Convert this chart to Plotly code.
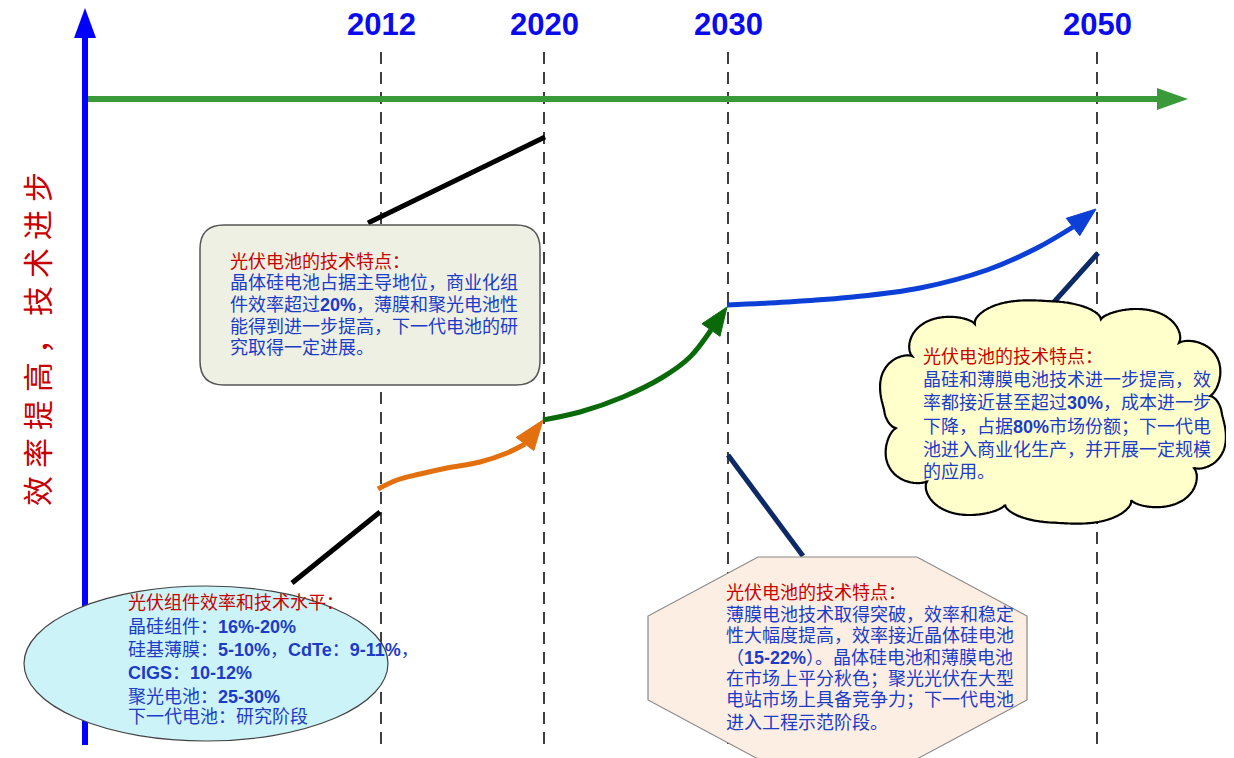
import numpy as np
import plotly.graph_objects as go

W, H = 1234, 758
OFF = 8  # page body margin compensation

# ---- timeline data ----
years = ["2012", "2020", "2030", "2050"]
year_x = [381, 544, 728, 1097]

# ---- trajectory curves (diagram units) ----
orange_x = [378, 397, 420, 447, 480, 507, 525]
orange_y = [489, 480, 474, 468, 462, 453, 444]
orange_tip = [543, 420]
green_x = [543, 580, 623, 663, 690, 711]
green_y = [420, 412, 397, 377, 357, 330]
green_tip = [727, 307]
blue_x = [727, 787, 853, 920, 987, 1037, 1073]
blue_y = [305, 302, 297, 288, 270, 248, 227]
blue_tip = [1096, 209]

# ---- connector lines ----
black1_x = [292, 380]
black1_y = [583, 512]
black2_x = [368, 545]
black2_y = [223, 137]
navy1_x = [728, 803]
navy1_y = [455, 556]
navy2_x = [1045, 1098]
navy2_y = [312, 253]

# ---- texts ----
ylabel_chars = ["效", "率", "提", "高", "，", "技", "术", "进", "步"]

box1_lines = ["光伏电池的技术特点：",
              "晶体硅电池占据主导地位，商业化组",
              "件效率超过<b>20%</b>，薄膜和聚光电池性",
              "能得到进一步提高，下一代电池的研",
              "究取得一定进展。"]
cloud_lines = ["光伏电池的技术特点：",
               "晶硅和薄膜电池技术进一步提高，效",
               "率都接近甚至超过<b>30%</b>，成本进一步",
               "下降，占据<b>80%</b>市场份额；下一代电",
               "池进入商业化生产，并开展一定规模",
               "的应用。"]
octa_lines = ["光伏电池的技术特点：",
              "薄膜电池技术取得突破，效率和稳定",
              "性大幅度提高，效率接近晶体硅电池",
              "（<b>15-22%</b>）。晶体硅电池和薄膜电池",
              "在市场上平分秋色；聚光光伏在大型",
              "电站市场上具备竞争力；下一代电池",
              "进入工程示范阶段。"]
ellipse_lines = ["光伏组件效率和技术水平：",
                 "晶硅组件：<b>16%-20%</b>",
                 "硅基薄膜：<b>5-10%</b>，<b>CdTe</b>：<b>9-11%</b>，",
                 "<b>CIGS</b>：<b>10-12%</b>",
                 "聚光电池：<b>25-30%</b>",
                 "下一代电池：研究阶段"]

RED = "#c80000"
BODY = "#1c3cc8"
FONT = "Liberation Sans, Noto Sans CJK SC"

fig = go.Figure()
shapes = []
annotations = []

# dashed year lines
for x in year_x:
    shapes.append(dict(type="line", xref="x", yref="y", x0=x, x1=x, y0=52, y1=745,
                       line=dict(color="black", width=1.5, dash="12px,8px"), layer="below"))

def tri_path(pts):
    return "M " + " L ".join(f"{p[0]:.1f},{p[1]:.1f}" for p in pts) + " Z"

# vertical blue axis
shapes.append(dict(type="line", xref="x", yref="y", x0=85, x1=85, y0=745, y1=36,
                   line=dict(color="#0000ff", width=6), layer="below"))
shapes.append(dict(type="path", xref="x", yref="y", path=tri_path([(74, 38), (96, 38), (85, 8)]),
                   fillcolor="#0000ff", line=dict(width=0), layer="below"))
# horizontal green axis
shapes.append(dict(type="line", xref="x", yref="y", x0=88, x1=1160, y0=99, y1=99,
                   line=dict(color="#3a9a3a", width=6), layer="below"))
shapes.append(dict(type="path", xref="x", yref="y", path=tri_path([(1157, 88), (1157, 110), (1188, 99)]),
                   fillcolor="#3a9a3a", line=dict(width=0), layer="below"))

# curves + arrowheads
def add_curve(xs, ys, tip, color):
    fig.add_trace(go.Scatter(x=xs, y=ys, mode="lines", line=dict(color=color, width=5, shape="spline"),
                             hoverinfo="skip", showlegend=False))
    bx, by = xs[-1], ys[-1]
    tx, ty = tip
    d = np.array([tx - bx, ty - by], float)
    d /= np.linalg.norm(d)
    n = np.array([-d[1], d[0]])
    w = 11
    p1 = (bx + n[0] * w, by + n[1] * w)
    p2 = (bx - n[0] * w, by - n[1] * w)
    fig.add_trace(go.Scatter(x=[p1[0], tx, p2[0], p1[0]], y=[p1[1], ty, p2[1], p1[1]],
                             mode="lines", fill="toself", fillcolor=color,
                             line=dict(color=color, width=1), hoverinfo="skip", showlegend=False))

add_curve(orange_x, orange_y, orange_tip, "#e3700f")
add_curve(green_x, green_y, green_tip, "#0a6a0a")
add_curve(blue_x, blue_y, blue_tip, "#0c3fd6")

for xs, ys, c in [(black1_x, black1_y, "black"), (black2_x, black2_y, "black"),
                  (navy1_x, navy1_y, "#0d2a66"), (navy2_x, navy2_y, "#0d2a66")]:
    fig.add_trace(go.Scatter(x=xs, y=ys, mode="lines", line=dict(color=c, width=5),
                             hoverinfo="skip", showlegend=False))

# rounded rectangle box
x0, x1, y0, y1, r = 200, 540, 225, 385, 24
rr = (f"M {x0+r},{y0} L {x1-r},{y0} Q {x1},{y0} {x1},{y0+r} L {x1},{y1-r} Q {x1},{y1} {x1-r},{y1} "
      f"L {x0+r},{y1} Q {x0},{y1} {x0},{y1-r} L {x0},{y0+r} Q {x0},{y0} {x0+r},{y0} Z")
shapes.append(dict(type="path", xref="x", yref="y", path=rr, fillcolor="#eef0e3",
                   line=dict(color="#555555", width=1.5), layer="above"))

# ellipse
shapes.append(dict(type="circle", xref="x", yref="y", x0=24, x1=388, y0=586, y1=741,
                   fillcolor="#ccf3f7", line=dict(color="#444444", width=1.2), layer="above"))

# octagon
octa = [(758, 557), (917, 557), (1027, 616), (1027, 700), (917, 759), (758, 759), (648, 700), (648, 616)]
shapes.append(dict(type="path", xref="x", yref="y", path=tri_path(octa), fillcolor="#fdeee3",
                   line=dict(color="#888888", width=1.2), layer="above"))

# cloud (scalloped superellipse)
th = np.linspace(0, 2 * np.pi, 1400)
N = 10
s = np.abs(np.sin(N * th / 2 + 0.5)) ** 0.6
ex = 2 / 2.6
c, sn = np.cos(th), np.sin(th)
ux = np.sign(c) * np.abs(c) ** ex
uy = np.sign(sn) * np.abs(sn) ** ex
cx, cy = 1053, 412
cxs = cx + (157 + 18 * s) * ux
cys = cy + (94 + 18 * s) * uy
cloud_path = "M " + " L ".join(f"{a:.1f},{b:.1f}" for a, b in zip(cxs, cys)) + " Z"
shapes.append(dict(type="path", xref="x", yref="y", path=cloud_path, fillcolor="#ffffcc",
                   line=dict(color="black", width=2.2), layer="above"))

# text blocks
def add_block(lines, x, ys, size=18):
    for i, (t, y) in enumerate(zip(lines, ys)):
        annotations.append(dict(x=x, y=y, xref="x", yref="y", text=t, showarrow=False,
                                xanchor="left", yanchor="middle", align="left",
                                font=dict(family=FONT, size=size, color=RED if i == 0 else BODY)))

add_block(box1_lines, 228, [262, 283, 305, 327, 348])
add_block(cloud_lines, 921, [357, 380, 403, 427, 450, 472])
add_block(octa_lines, 724, [593, 615, 636, 658, 679, 700, 723])
add_block(ellipse_lines, 126, [603, 627, 650, 673, 697, 717])

# year labels
for t, x in zip(years, year_x):
    annotations.append(dict(x=x, y=24, xref="x", yref="y", text=f"<b>{t}</b>", showarrow=False,
                            xanchor="center", yanchor="middle",
                            font=dict(family="Liberation Sans", size=31, color="#0a0aee")))

# vertical axis label
for i, ch in enumerate(ylabel_chars):
    annotations.append(dict(x=36, y=491 - 38 * i, xref="x", yref="y", text=ch, showarrow=False,
                            textangle=-90, xanchor="center", yanchor="middle",
                            font=dict(family="Noto Sans CJK SC", size=30, color=RED)))

fig.update_layout(width=W, height=H, margin=dict(l=0, r=0, t=0, b=0),
                  paper_bgcolor="white", plot_bgcolor="white",
                  xaxis=dict(range=[OFF, W + OFF], visible=False, fixedrange=True),
                  yaxis=dict(range=[H + OFF, OFF], visible=False, fixedrange=True),
                  shapes=shapes, annotations=annotations, showlegend=False)

fig.write_html("out.html", config={"displayModeBar": False})
